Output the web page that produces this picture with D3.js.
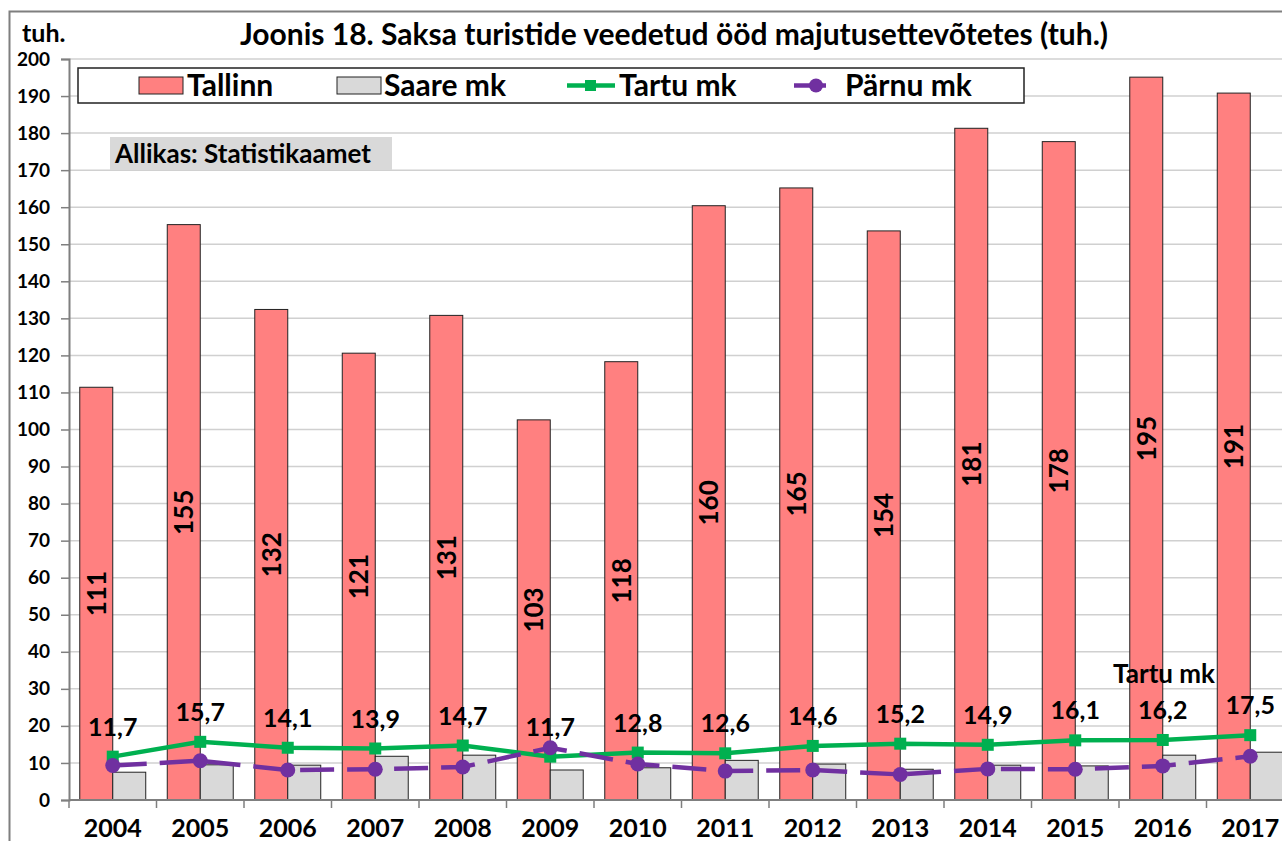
<!DOCTYPE html>
<html>
<head>
<meta charset="utf-8">
<script src="https://cdn.jsdelivr.net/npm/d3@7"></script>
<style>
  body { margin: 0; background: #fff; }
  svg text { font-family: Lato, "Open Sans", sans-serif; font-weight: bold; fill: #000; }
</style>
</head>
<body>
<div id="chart"></div>
<script>
var years = ["2004","2005","2006","2007","2008","2009","2010","2011","2012","2013","2014","2015","2016","2017"];
var tallinn = [111.4, 155.3, 132.4, 120.6, 130.8, 102.6, 118.3, 160.4, 165.2, 153.6, 181.3, 177.7, 195.1, 190.8];
var saare = [7.5, 9.5, 9.4, 11.8, 12.1, 8.1, 8.7, 10.7, 9.7, 8.3, 9.4, 9.2, 12.1, 12.9];
var tartu = [11.7, 15.7, 14.1, 13.9, 14.7, 11.7, 12.8, 12.6, 14.6, 15.2, 14.9, 16.1, 16.2, 17.5];
var parnu = [9.3, 10.6, 8.1, 8.3, 8.9, 14.1, 9.7, 7.8, 8.1, 6.9, 8.4, 8.3, 9.2, 11.8];
var yTicks = d3.range(0, 201, 10);
var seriesNames = ["Tallinn", "Saare mk", "Tartu mk", "Pärnu mk"];

var W = 1282, H = 841;
var colTallinn = "#FF8080", colSaare = "#D9D9D9", colTartu = "#00B050", colParnu = "#7030A0";

var svg = d3.select("#chart").append("svg")
            .attr("width", W)
            .attr("height", H);

// outer chart frame (cut by the picture edge)
svg.append("path")
   .attr("d", "M9.5," + H + "V11.5H" + W)
   .attr("fill", "none")
   .attr("stroke", "#7f7f7f")
   .attr("stroke-width", 2);

var x0 = d3.scaleBand().domain(years).range([69, 1294]).padding(0);
var bw = x0.bandwidth();
var x1 = d3.scaleBand().domain(["Tallinn", "Saare"]).range([bw * 0.123, bw * 0.877]);
var y = d3.scaleLinear().domain([0, 200]).range([800, 59]);

var fmt1 = d3.formatLocale({decimal: ",", thousands: " ", grouping: [3], currency: ["", ""]}).format(".1f");
var fmt0 = d3.format(".0f");

// gridlines
svg.append("g").selectAll("line")
   .data(yTicks)
   .join("line")
   .attr("x1", 69).attr("x2", 1294)
   .attr("y1", function(d) { return y(d); })
   .attr("y2", function(d) { return y(d); })
   .attr("stroke", "#d0d0d0")
   .attr("stroke-width", 1.5);

// y axis
var yAxis = svg.append("g")
   .attr("transform", "translate(69,0)")
   .call(d3.axisLeft(y).tickValues(yTicks).tickSize(8).tickPadding(11));
yAxis.select(".domain").attr("stroke", "#7f7f7f").attr("stroke-width", 2);
yAxis.selectAll(".tick line").attr("stroke", "#7f7f7f").attr("stroke-width", 1.5);
yAxis.selectAll(".tick text").attr("font-size", "19px").attr("font-family", null);

// bars
var groups = svg.append("g").selectAll("g")
   .data(years)
   .join("g")
   .attr("transform", function(d) { return "translate(" + x0(d) + ",0)"; });

groups.append("rect")
   .attr("x", x1("Tallinn"))
   .attr("width", x1.bandwidth())
   .attr("y", function(d, i) { return y(tallinn[i]); })
   .attr("height", function(d, i) { return y(0) - y(tallinn[i]); })
   .attr("fill", colTallinn)
   .attr("stroke", "#222")
   .attr("stroke-width", 1);

groups.append("rect")
   .attr("x", x1("Saare"))
   .attr("width", x1.bandwidth())
   .attr("y", function(d, i) { return y(saare[i]); })
   .attr("height", function(d, i) { return y(0) - y(saare[i]); })
   .attr("fill", colSaare)
   .attr("stroke", "#222")
   .attr("stroke-width", 1);

// Tallinn labels, rotated inside the bars
groups.append("text")
   .attr("transform", function(d, i) {
     var cx = x1("Tallinn") + x1.bandwidth() / 2;
     var cy = (y(tallinn[i]) + y(0)) / 2;
     return "translate(" + cx + "," + cy + ") rotate(-90)";
   })
   .attr("text-anchor", "middle")
   .attr("dy", "0.36em")
   .attr("font-size", "26px")
   .text(function(d, i) { return fmt0(tallinn[i]); });

// x axis
var xAxis = svg.append("g")
   .attr("transform", "translate(0,800)");
xAxis.append("line")
   .attr("x1", 69).attr("x2", 1294)
   .attr("stroke", "#7f7f7f").attr("stroke-width", 2);
xAxis.selectAll(".sep")
   .data(years)
   .join("line")
   .attr("class", "sep")
   .attr("x1", function(d) { return x0(d); })
   .attr("x2", function(d) { return x0(d); })
   .attr("y1", 0).attr("y2", 8)
   .attr("stroke", "#7f7f7f").attr("stroke-width", 1.5);
xAxis.selectAll(".yl")
   .data(years)
   .join("text")
   .attr("class", "yl")
   .attr("x", function(d) { return x0(d) + bw / 2; })
   .attr("y", 37)
   .attr("text-anchor", "middle")
   .attr("font-size", "25px")
   .text(function(d) { return d; });

var cx = function(d, i) { return x0(years[i]) + bw / 2; };

// Tartu line
svg.append("path")
   .datum(tartu)
   .attr("fill", "none")
   .attr("stroke", colTartu)
   .attr("stroke-width", 4.5)
   .attr("d", d3.line().x(cx).y(function(d) { return y(d); }));

svg.append("g").selectAll("rect")
   .data(tartu)
   .join("rect")
   .attr("x", function(d, i) { return cx(d, i) - 6; })
   .attr("y", function(d) { return y(d) - 6; })
   .attr("width", 12).attr("height", 12)
   .attr("fill", colTartu);

// Pärnu line
svg.append("path")
   .datum(parnu)
   .attr("fill", "none")
   .attr("stroke", colParnu)
   .attr("stroke-width", 4.5)
   .attr("stroke-dasharray", "34,13")
   .attr("d", d3.line().x(cx).y(function(d) { return y(d); }));

svg.append("g").selectAll("circle")
   .data(parnu)
   .join("circle")
   .attr("cx", cx)
   .attr("cy", function(d) { return y(d); })
   .attr("r", 7.5)
   .attr("fill", colParnu);

// Tartu labels
svg.append("g").selectAll("text")
   .data(tartu)
   .join("text")
   .attr("x", cx)
   .attr("y", function(d) { return y(d) - 21; })
   .attr("text-anchor", "middle")
   .attr("font-size", "25px")
   .text(function(d) { return fmt1(d); });

svg.append("text")
   .attr("x", 1164).attr("y", 683)
   .attr("text-anchor", "middle")
   .attr("font-size", "26px")
   .text("Tartu mk");

// title and unit
svg.append("text")
   .attr("x", 674).attr("y", 45)
   .attr("text-anchor", "middle")
   .attr("font-size", "30px")
   .text("Joonis 18. Saksa turistide veedetud ööd majutusettevõtetes (tuh.)");

svg.append("text")
   .attr("x", 22).attr("y", 42)
   .attr("font-size", "25px")
   .text("tuh.");

// source box
svg.append("rect")
   .attr("x", 110).attr("y", 137)
   .attr("width", 282).attr("height", 33)
   .attr("fill", "#D9D9D9");
svg.append("text")
   .attr("x", 115).attr("y", 163)
   .attr("font-size", "26px")
   .text("Allikas: Statistikaamet");

// legend
var legend = svg.append("g");
legend.append("rect")
   .attr("x", 78).attr("y", 68)
   .attr("width", 946).attr("height", 35)
   .attr("fill", "#fff")
   .attr("stroke", "#222")
   .attr("stroke-width", 1.5);

var legX = [139, 337, 567, 794];
var legText = [187, 384, 619, 845];

legend.append("rect")
   .attr("x", legX[0]).attr("y", 77).attr("width", 44).attr("height", 17)
   .attr("fill", colTallinn).attr("stroke", "#222").attr("stroke-width", 1);
legend.append("rect")
   .attr("x", legX[1]).attr("y", 77).attr("width", 44).attr("height", 17)
   .attr("fill", colSaare).attr("stroke", "#222").attr("stroke-width", 1);
legend.append("line")
   .attr("x1", legX[2]).attr("x2", legX[2] + 48).attr("y1", 85.5).attr("y2", 85.5)
   .attr("stroke", colTartu).attr("stroke-width", 4.5);
legend.append("rect")
   .attr("x", legX[2] + 18).attr("y", 80).attr("width", 11).attr("height", 11)
   .attr("fill", colTartu);
legend.append("line")
   .attr("x1", legX[3]).attr("x2", legX[3] + 32).attr("y1", 85.5).attr("y2", 85.5)
   .attr("stroke", colParnu).attr("stroke-width", 4.5);
legend.append("circle")
   .attr("cx", legX[3] + 22).attr("cy", 85.5).attr("r", 7)
   .attr("fill", colParnu);

legend.selectAll(".lt")
   .data(seriesNames)
   .join("text")
   .attr("class", "lt")
   .attr("x", function(d, i) { return legText[i]; })
   .attr("y", 96)
   .attr("font-size", "30px")
   .text(function(d) { return d; });
</script>
</body>
</html>
